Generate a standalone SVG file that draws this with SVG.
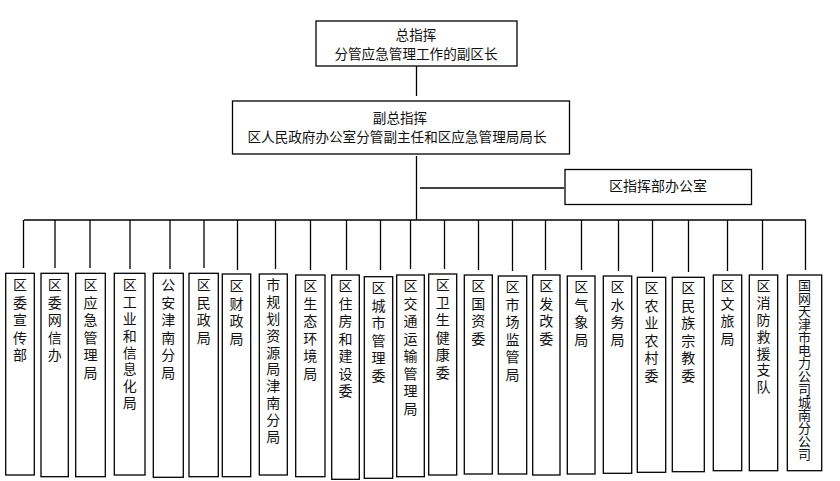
<svg xmlns="http://www.w3.org/2000/svg" width="840" height="481" viewBox="0 0 840 481">
<style>
.box{fill:#fff;stroke:#000;stroke-width:1.3}
.ln{stroke:#000;stroke-width:1.3;fill:none}
text{font-family:"Noto Sans CJK SC","Liberation Sans",sans-serif;font-size:14px;fill:#111}
.c{text-anchor:middle;dominant-baseline:central}
.t{font-size:13.6px}
.v{writing-mode:vertical-rl;text-orientation:upright;letter-spacing:3.5px}
.v2{writing-mode:vertical-rl;text-orientation:upright;letter-spacing:2.8px}
.v3{writing-mode:vertical-rl;text-orientation:upright;letter-spacing:0px;font-size:13px}
</style>
<rect width="840" height="481" fill="#fff"/>
<g id="connectors">
<line class="ln" x1="416.5" y1="66" x2="416.5" y2="96"/>
<line class="ln" x1="416.5" y1="156" x2="416.5" y2="220"/>
<line class="ln" x1="420" y1="188" x2="564" y2="188"/>
<line class="ln" x1="24" y1="220" x2="806" y2="220"/>
<line class="ln" x1="23.5" y1="220" x2="23.5" y2="268"/>
<line class="ln" x1="55" y1="220" x2="55" y2="268"/>
<line class="ln" x1="90" y1="220" x2="90" y2="268"/>
<line class="ln" x1="130" y1="220" x2="130" y2="269"/>
<line class="ln" x1="170" y1="220" x2="170" y2="269"/>
<line class="ln" x1="204" y1="220" x2="204" y2="268"/>
<line class="ln" x1="237.5" y1="220" x2="237.5" y2="270"/>
<line class="ln" x1="275.5" y1="220" x2="275.5" y2="269"/>
<line class="ln" x1="310.5" y1="220" x2="310.5" y2="270" stroke="#777"/>
<line class="ln" x1="346.5" y1="220" x2="346.5" y2="270"/>
<line class="ln" x1="380.5" y1="220" x2="380.5" y2="270"/>
<line class="ln" x1="410.5" y1="220" x2="410.5" y2="269"/>
<line class="ln" x1="444.5" y1="220" x2="444.5" y2="269"/>
<line class="ln" x1="478.5" y1="220" x2="478.5" y2="270"/>
<line class="ln" x1="512.5" y1="220" x2="512.5" y2="271"/>
<line class="ln" x1="545.5" y1="220" x2="545.5" y2="270"/>
<line class="ln" x1="581.5" y1="220" x2="581.5" y2="270"/>
<line class="ln" x1="618.5" y1="220" x2="618.5" y2="271"/>
<line class="ln" x1="652.5" y1="220" x2="652.5" y2="272"/>
<line class="ln" x1="688.5" y1="220" x2="688.5" y2="272"/>
<line class="ln" x1="727.5" y1="220" x2="727.5" y2="271"/>
<line class="ln" x1="762.5" y1="220" x2="762.5" y2="270"/>
<line class="ln" x1="805.5" y1="220" x2="805.5" y2="270"/>
</g>
<g id="n-chief">
<rect class="box" x="316" y="21" width="201" height="45"/>
<text class="c t" x="416" y="33.5">总指挥</text>
<text class="c t" x="416" y="53.3">分管应急管理工作的副区长</text>
</g>
<g id="n-deputy">
<rect class="box" x="232.5" y="101" width="337" height="53"/>
<text class="c t" x="400" y="116.5">副总指挥</text>
<text class="c t" x="397" y="136.3">区人民政府办公室分管副主任和区应急管理局局长</text>
</g>
<g id="n-office">
<rect class="box" x="565" y="169.5" width="186.5" height="35"/>
<text class="c" x="658" y="185">区指挥部办公室</text>
</g>
<g id="n1"><rect class="box" x="5.7" y="273.3" width="28.6" height="201.7"/><text class="v" x="20" y="278">区委宣传部</text></g>
<g id="n2"><rect class="box" x="41" y="273.3" width="27.3" height="203.4"/><text class="v" x="54.7" y="278">区委网信办</text></g>
<g id="n3"><rect class="box" x="75.7" y="273.3" width="29.6" height="203.4"/><text class="v" x="90.5" y="278">区应急管理局</text></g>
<g id="n4"><rect class="box" x="114.3" y="273.3" width="30.7" height="201.7"/><text class="v2" x="129.7" y="278">区工业和信息化局</text></g>
<g id="n5"><rect class="box" x="153.3" y="273.3" width="30" height="204"/><text class="v" x="168.3" y="278">公安津南分局</text></g>
<g id="n6"><rect class="box" x="189" y="273.3" width="29.3" height="203.4"/><text class="v" x="203.7" y="278">区民政局</text></g>
<g id="n7"><rect class="box" x="222.3" y="274" width="28.4" height="202.7"/><text class="v" x="236.5" y="279">区财政局</text></g>
<g id="n8"><rect class="box" x="259.3" y="274" width="28" height="201"/><text class="v2" x="273.3" y="278">市规划资源局津南分局</text></g>
<g id="n9"><rect class="box" x="295.7" y="275" width="29.3" height="201.7"/><text class="v" x="310.3" y="279">区生态环境局</text></g>
<g id="n10"><rect class="box" x="331.7" y="275" width="27.6" height="204.3"/><text class="v" x="345.5" y="279">区住房和建设委</text></g>
<g id="n11"><rect class="box" x="364.3" y="276.7" width="28.4" height="201.6"/><text class="v" x="378.5" y="281">区城市管理委</text></g>
<g id="n12"><rect class="box" x="396.7" y="275" width="27.6" height="201.7"/><text class="v" x="410.5" y="279">区交通运输管理局</text></g>
<g id="n13"><rect class="box" x="428.7" y="274" width="28" height="201"/><text class="v" x="442.7" y="278">区卫生健康委</text></g>
<g id="n14"><rect class="box" x="464.3" y="275" width="28" height="199"/><text class="v" x="478.3" y="279">区国资委</text></g>
<g id="n15"><rect class="box" x="498.3" y="276" width="28.4" height="198"/><text class="v" x="512.5" y="280">区市场监管局</text></g>
<g id="n16"><rect class="box" x="532.7" y="275" width="27.3" height="200"/><text class="v" x="546.3" y="279">区发改委</text></g>
<g id="n17"><rect class="box" x="567.3" y="276" width="27.7" height="198"/><text class="v" x="581.2" y="280">区气象局</text></g>
<g id="n18"><rect class="box" x="603.3" y="276" width="28.4" height="197.3"/><text class="v" x="617.5" y="280">区水务局</text></g>
<g id="n19"><rect class="box" x="637.3" y="277.3" width="28.4" height="195"/><text class="v" x="651.5" y="281">区农业农村委</text></g>
<g id="n20"><rect class="box" x="672.3" y="277.3" width="32" height="194.4"/><text class="v" x="688.3" y="281">区民族宗教委</text></g>
<g id="n21"><rect class="box" x="713.3" y="275" width="28.4" height="195.7"/><text class="v" x="727.5" y="279">区文旅局</text></g>
<g id="n22"><rect class="box" x="749.3" y="275" width="28.4" height="195.7"/><text class="v2" x="763.5" y="279">区消防救援支队</text></g>
<g id="n23"><rect class="box" x="787.3" y="275" width="34.4" height="195.7"/><text class="v3" x="804.5" y="278.5">国网天津市电力公司城南分公司</text></g>
</svg>
